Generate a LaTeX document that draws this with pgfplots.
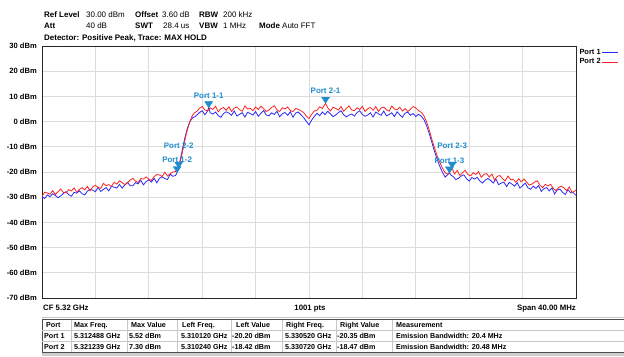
\documentclass[border=0pt]{standalone}
\usepackage{pgfplots}
\pgfplotsset{compat=1.18}
\usepackage{fontspec}
\setmainfont{Liberation Sans}

\definecolor{traceA}{RGB}{40,40,250}
\definecolor{traceB}{RGB}{250,35,35}
\definecolor{mkr}{RGB}{30,140,205}
\definecolor{gridc}{RGB}{220,220,220}
\definecolor{tblline}{RGB}{200,200,200}
\definecolor{tblbar}{RGB}{205,205,205}
\newcommand{\fs}[1]{\fontsize{#1}{#1}\selectfont}

\begin{document}
\begin{tikzpicture}[x=1bp,y=1bp]
\path[use as bounding box] (0,0) rectangle (624,356);

% instrument settings header
\begin{scope}[every node/.style={anchor=base west, inner sep=0pt, font=\fs{8}}]
\node[font=\fs{8}\bfseries] at (44,339) {Ref Level};
\node at (86,339) {30.00 dBm};
\node[font=\fs{8}\bfseries] at (135,339) {Offset};
\node at (162,339) {3.60 dB};
\node[font=\fs{8}\bfseries] at (199,339) {RBW};
\node at (223,339) {200 kHz};
\node[font=\fs{8}\bfseries] at (44,328) {Att};
\node at (86,328) {40 dB};
\node[font=\fs{8}\bfseries] at (135,328) {SWT};
\node at (163,328) {28.4 us};
\node[font=\fs{8}\bfseries] at (199,328) {VBW};
\node at (223,328) {1 MHz};
\node[font=\fs{8}\bfseries] at (259,328) {Mode};
\node at (282,328) {Auto FFT};
\node[font=\fs{8}\bfseries] at (44,315.4) {Detector: Positive Peak, Trace: MAX HOLD};
\end{scope}

\begin{axis}[
  at={(42bp,58bp)}, anchor=south west,
  scale only axis, width=534bp, height=252bp,
  xmin=0, xmax=40, ymin=-70, ymax=30,
  xtick={0,4,...,40}, ytick={-70,-60,...,30},
  xticklabels={},
  yticklabels={-70 dBm,-60 dBm,-50 dBm,-40 dBm,-30 dBm,-20 dBm,-10 dBm,0 dBm,10 dBm,20 dBm,30 dBm},
  yticklabel style={font=\fs{7.6}\bfseries, anchor=east, inner sep=0pt, xshift=-5bp},
  major tick length=0pt,
  grid=major, grid style={gridc, line width=0.8bp},
  axis line style={black!85, line width=0.9bp},
  legend style={at={(1,1)}, anchor=north west, xshift=2bp, yshift=-2bp,
    draw=none, fill=none, inner sep=0pt, row sep=0pt,
    font=\fs{7.5}\bfseries, cells={anchor=west},
    nodes={inner sep=1.3bp}},
  legend plot pos=right,
  legend image code/.code={\draw[#1, line width=1bp] (0bp,0bp) -- (16bp,0bp);},
]

% Port 1 trace (x: MHz above 5300 MHz, y: dBm)
\addplot[traceA, line width=0.8bp] table {
0.0 -29.8
0.2 -30.5
0.4 -29.1
0.6 -29.8
0.8 -28.6
1.0 -29.3
1.2 -30.2
1.4 -29.5
1.6 -28.5
1.8 -27.8
2.0 -29.0
2.2 -29.6
2.4 -28.1
2.6 -28.4
2.8 -27.5
3.0 -28.6
3.2 -29.1
3.4 -27.6
3.6 -26.8
3.8 -27.2
4.0 -27.8
4.2 -26.1
4.4 -27.7
4.6 -26.9
4.8 -26.2
5.0 -27.5
5.2 -25.7
5.4 -26.0
5.6 -26.4
5.8 -24.9
6.0 -26.4
6.2 -25.2
6.4 -24.1
6.6 -25.4
6.8 -25.5
7.0 -24.2
7.2 -24.7
7.4 -23.3
7.6 -25.1
7.8 -23.8
8.0 -23.1
8.2 -24.0
8.4 -22.5
8.6 -24.3
8.8 -22.5
9.0 -21.9
9.2 -22.6
9.4 -23.0
9.6 -20.9
9.8 -21.7
10.0 -21.4
10.12 -20.2
10.3 -16.5
10.5 -11.5
10.7 -6.5
10.9 -2.5
11.1 0.2
11.3 1.6
11.45 1.9
11.6 2.6
11.8 3.6
12.0 4.3
12.2 2.7
12.4 4.2
12.488 5.52
12.6 3.5
12.8 3.0
13.0 3.8
13.2 2.4
13.4 1.7
13.6 3.2
13.8 3.9
14.0 3.4
14.2 2.5
14.4 4.2
14.6 2.2
14.8 2.9
15.0 3.5
15.2 1.8
15.4 3.7
15.6 3.2
15.8 2.6
16.0 4.0
16.2 2.1
16.4 3.3
16.6 4.4
16.8 2.6
17.0 2.3
17.2 3.5
17.4 2.8
17.6 4.1
17.8 1.9
18.0 3.1
18.2 3.6
18.4 2.5
18.6 3.9
18.8 1.7
19.0 3.4
19.2 3.8
19.4 2.7
19.6 1.6
19.8 0.1
20.0 -1.3
20.2 0.6
20.4 2.1
20.6 3.3
20.8 2.3
21.0 3.8
21.2 2.8
21.4 4.1
21.6 3.1
21.8 2.0
22.0 2.6
22.2 3.6
22.4 4.3
22.6 2.7
22.8 1.9
23.0 2.6
23.2 3.0
23.4 2.2
23.6 3.6
23.8 4.3
24.0 2.8
24.2 2.1
24.4 2.6
24.6 3.5
24.8 1.8
25.0 3.8
25.2 3.1
25.4 2.5
25.6 4.2
25.8 2.3
26.0 2.8
26.2 3.5
26.4 2.0
26.6 3.9
26.8 2.7
27.0 1.7
27.2 3.4
27.4 3.7
27.6 2.5
27.8 3.2
28.0 2.0
28.2 2.9
28.4 2.2
28.6 0.9
28.8 -1.5
29.0 -4.6
29.2 -8.2
29.4 -11.8
29.6 -15.0
29.8 -17.8
30.0 -20.2
30.2 -22.0
30.35 -21.2
30.52 -20.35
30.65 -21.3
30.8 -21.8
31.0 -23.0
31.2 -22.5
31.4 -21.6
31.6 -21.1
31.8 -22.7
32.0 -23.6
32.2 -22.2
32.4 -22.8
32.6 -22.1
32.8 -23.6
33.0 -24.4
33.2 -23.2
33.4 -22.6
33.6 -23.3
33.8 -24.4
34.0 -22.8
34.2 -25.0
34.4 -24.4
34.6 -24.0
34.8 -25.8
35.0 -24.1
35.2 -24.8
35.4 -25.6
35.6 -24.3
35.8 -26.4
36.0 -25.4
36.2 -24.4
36.4 -26.3
36.6 -26.8
36.8 -25.6
37.0 -26.5
37.2 -25.4
37.4 -27.7
37.6 -26.6
37.8 -26.2
38.0 -27.5
38.2 -26.3
38.4 -28.7
38.6 -27.1
38.8 -26.8
39.0 -28.1
39.2 -28.9
39.4 -27.0
39.6 -28.3
39.8 -28.2
40.0 -29.3
};
\addlegendentry{Port 1}

% Port 2 trace
\addplot[traceB, line width=0.8bp] table {
0.0 -29.7
0.2 -28.0
0.4 -28.3
0.6 -28.8
0.8 -27.4
1.0 -28.9
1.2 -27.8
1.4 -26.7
1.6 -28.1
1.8 -28.3
2.0 -27.0
2.2 -27.5
2.4 -26.3
2.6 -28.0
2.8 -26.9
3.0 -26.2
3.2 -27.1
3.4 -25.7
3.6 -27.5
3.8 -25.9
4.0 -25.3
4.2 -26.1
4.4 -26.5
4.6 -24.5
4.8 -25.4
5.0 -25.0
5.2 -25.7
5.4 -24.1
5.6 -24.8
5.8 -23.5
6.0 -24.2
6.2 -25.0
6.4 -24.3
6.6 -23.2
6.8 -22.5
7.0 -23.6
7.2 -24.2
7.4 -22.6
7.6 -22.8
7.8 -21.9
8.0 -22.9
8.2 -23.3
8.4 -21.8
8.6 -21.0
8.8 -21.2
9.0 -21.8
9.2 -20.1
9.4 -21.6
9.6 -20.7
9.8 -20.0
10.0 -19.8
10.24 -18.42
10.4 -15.0
10.6 -10.0
10.8 -5.0
11.0 -1.2
11.2 1.8
11.4 3.4
11.6 4.1
11.8 5.3
12.0 6.0
12.2 4.6
12.4 4.3
12.6 5.5
12.8 4.8
13.0 6.1
13.2 3.9
13.4 5.1
13.6 5.6
13.8 4.5
14.0 5.9
14.2 4.0
14.4 5.4
14.6 5.8
14.8 4.7
15.0 4.1
15.2 6.2
15.4 5.0
15.6 5.3
15.8 4.3
16.0 5.8
16.2 4.8
16.4 6.1
16.6 5.1
16.8 4.0
17.0 4.6
17.2 5.6
17.4 6.3
17.6 4.7
17.8 4.0
18.0 5.5
18.2 5.0
18.4 5.8
18.6 4.4
18.8 4.0
19.0 5.2
19.2 4.9
19.4 4.3
19.6 3.6
19.8 2.2
20.0 1.2
20.2 2.9
20.4 4.2
20.6 4.5
20.8 5.9
21.0 5.2
21.239 7.30
21.4 5.5
21.6 4.2
21.8 5.7
22.0 5.2
22.2 4.6
22.4 6.0
22.6 4.1
22.8 5.3
23.0 6.2
23.2 4.6
23.4 4.3
23.6 5.5
23.8 4.8
24.0 6.1
24.2 4.0
24.4 5.1
24.6 5.6
24.8 4.5
25.0 5.9
25.2 4.0
25.4 5.4
25.6 5.8
25.8 4.7
26.0 4.1
26.2 6.2
26.4 5.0
26.6 4.7
26.8 5.7
27.0 4.2
27.2 5.2
27.4 4.0
27.6 4.9
27.8 6.0
28.0 5.4
28.2 4.4
28.4 3.7
28.6 2.4
28.8 0.0
29.0 -3.2
29.2 -7.0
29.4 -10.4
29.6 -13.6
29.8 -16.2
30.0 -18.5
30.2 -20.3
30.4 -20.9
30.55 -19.8
30.72 -18.47
30.9 -20.8
31.1 -19.4
31.3 -21.4
31.5 -20.3
31.7 -19.3
31.9 -21.0
32.1 -21.5
32.3 -20.3
32.5 -21.0
32.7 -19.8
32.9 -22.1
33.1 -21.0
33.3 -20.6
33.5 -22.0
33.7 -20.8
33.9 -23.2
34.1 -21.7
34.3 -21.4
34.5 -22.7
34.7 -23.5
34.9 -21.6
35.1 -23.0
35.3 -22.9
35.5 -24.1
35.7 -22.7
35.9 -23.9
36.1 -22.8
36.3 -24.0
36.5 -25.2
36.7 -24.8
36.9 -24.0
37.1 -23.5
37.3 -25.2
37.5 -26.2
37.7 -24.9
37.9 -25.5
38.1 -24.9
38.3 -26.5
38.5 -27.4
38.7 -26.1
38.9 -25.6
39.1 -26.3
39.3 -27.4
39.5 -25.9
39.7 -28.1
39.9 -27.6
40.0 -27.1
};
\addlegendentry{Port 2}

% marker triangles, tip on the measured point
\addplot[only marks, forget plot, mark=triangle*, mark size=4bp,
  mark options={yshift=4bp, rotate=180, xscale=1.15, draw=mkr, fill=mkr}]
  coordinates {(10.12,-20.20) (30.52,-20.35) (10.24,-18.42) (30.72,-18.47) (12.488,5.52) (21.239,7.30)};

\begin{scope}[every node/.style={font=\fs{8}\bfseries, text=mkr, inner sep=0pt}]
\node[yshift=12bp] at (axis cs:12.488,5.52) {Port 1-1};
\node[yshift=12bp] at (axis cs:21.239,7.30) {Port 2-1};
\node[yshift=12.5bp] at (axis cs:10.12,-20.20) {Port 1-2};
\node[yshift=22bp] at (axis cs:10.24,-18.42) {Port 2-2};
\node[yshift=12.5bp] at (axis cs:30.52,-20.35) {Port 1-3};
\node[yshift=22bp] at (axis cs:30.72,-18.47) {Port 2-3};
\end{scope}
\end{axis}

% footer of the trace window
\node[anchor=base west, inner sep=0pt, font=\fs{7.8}\bfseries] at (43,46) {CF 5.32 GHz};
\node[anchor=base, inner sep=0pt, font=\fs{7.8}\bfseries] at (310,46) {1001 pts};
\node[anchor=base east, inner sep=0pt, font=\fs{7.8}\bfseries] at (576,46) {Span 40.00 MHz};

% marker result table
\fill[tblbar] (42,0) rectangle (624,4);
\draw[tblline, line width=0.6bp] (42,38.5) -- (624,38.5);
\draw[black!70, line width=0.7bp] (624,36.5) -- (42,36.5) -- (42,4) -- (624,4);
\draw[tblline, line width=0.6bp] (42,25.5) -- (624,25.5) (42,14.7) -- (624,14.7);
\foreach \cx in {71,127,177,231,282,336,392} {
  \draw[tblline, line width=0.6bp] (\cx,36.5) -- (\cx,4);
}
\begin{scope}[every node/.style={anchor=base west, inner sep=0pt, font=\fs{7.2}\bfseries}]
\node at (46,28.2) {Port};
\node at (74,28.2) {Max Freq.};
\node at (131,28.2) {Max Value};
\node at (182,28.2) {Left Freq.};
\node at (236,28.2) {Left Value};
\node at (286,28.2) {Right Freq.};
\node at (340,28.2) {Right Value};
\node at (396,28.2) {Measurement};
\node at (44,17.3) {Port 1};
\node at (74,17.3) {5.312488 GHz};
\node at (129,17.3) {5.52 dBm};
\node at (181,17.3) {5.310120 GHz};
\node at (232,17.3) {-20.20 dBm};
\node at (285,17.3) {5.330520 GHz};
\node at (337,17.3) {-20.35 dBm};
\node at (396,17.3) {Emission Bandwidth: 20.4 MHz};
\node at (44,6.6) {Port 2};
\node at (74,6.6) {5.321239 GHz};
\node at (129,6.6) {7.30 dBm};
\node at (181,6.6) {5.310240 GHz};
\node at (232,6.6) {-18.42 dBm};
\node at (285,6.6) {5.330720 GHz};
\node at (337,6.6) {-18.47 dBm};
\node at (396,6.6) {Emission Bandwidth: 20.48 MHz};
\end{scope}
\end{tikzpicture}
\end{document}
